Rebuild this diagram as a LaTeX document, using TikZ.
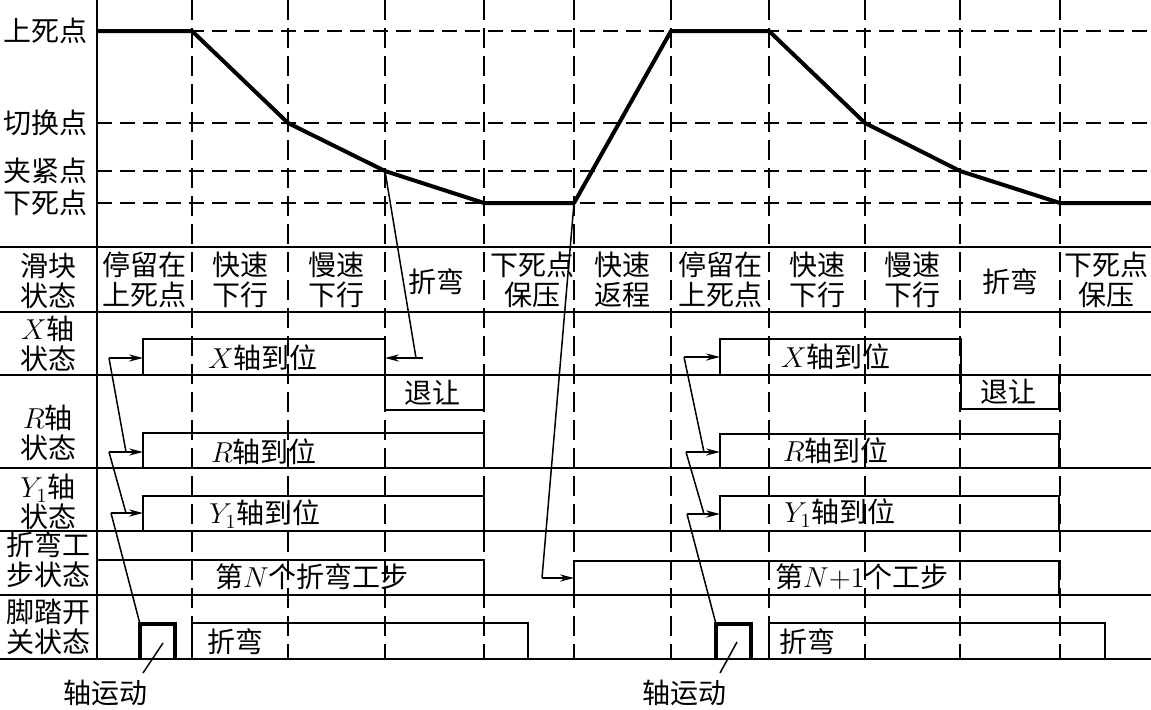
\documentclass[tikz,border=0pt]{standalone}
\usepackage{fontspec}
\usepackage{tikz}
\usetikzlibrary{arrows.meta}
\newfontfamily\cjk{Noto Sans CJK SC}
\newcommand{\zh}{\cjk\fontsize{14}{15}\selectfont}

\begin{document}
\begin{tikzpicture}[x=0.5pt, y=-0.5pt,
        txt/.style={font=\zh, align=center, inner sep=0pt},
        tline/.style={line width=1.2pt},
        hdash/.style={dash pattern=on 7.5pt off 4pt, line width=0.9pt},
        vdash/.style={dash pattern=on 10pt off 4pt, line width=0.9pt},
        curve/.style={line width=2pt, line join=round},
        sbox/.style={line width=0.9pt},
        pedal/.style={line width=2pt},
        arrow/.style={-{Stealth[length=7pt, width=3.6pt]}, line width=0.75pt},
        lead/.style={line width=0.75pt}
    ]
        \useasboundingbox (0,0) rectangle (1151,709);

        % Grid
        \foreach \y in {31,123,171,203}
            \draw[hdash] (97,\y) -- (1151,\y);
        \foreach \x in {192,288,385,484,574,671,769,865,960,1060}
            \draw[vdash] (\x,0) -- (\x,659);
        \draw[tline] (97,0) -- (97,659);
        \foreach \y in {247,312,375,468,531,595,659}
            \draw[tline] (0,\y) -- (1151,\y);

        % Slider positions
        \node[txt, anchor=east] (tdc) at (88,31) {上死点};
        \node[txt, anchor=east] (swp) at (88,123) {切换点};
        \node[txt, anchor=east] (clp) at (88,171) {夹紧点};
        \node[txt, anchor=east] (bdc) at (88,203) {下死点};

        \coordinate (p0) at (97,31);
        \coordinate (p1) at (192,31);
        \coordinate (p2) at (288,123);
        \coordinate (p3) at (385,171);
        \coordinate (p4) at (484,203);
        \coordinate (p5) at (574,203);
        \coordinate (p6) at (671,31);
        \coordinate (p7) at (769,31);
        \coordinate (p8) at (865,123);
        \coordinate (p9) at (960,171);
        \coordinate (p10) at (1060,203);
        \coordinate (p11) at (1151,203);
        \draw[curve] (p0) -- (p1) -- (p2) -- (p3) -- (p4) -- (p5) -- (p6)
            -- (p7) -- (p8) -- (p9) -- (p10) -- (p11);

        % Row titles
        \node[txt] (rslide) at (48,281) {滑块\\状态};
        \node[txt] (rx) at (48,344) {$X$轴\\状态};
        \node[txt] (rr) at (48,433) {$R$轴\\状态};
        \node[txt] (ry) at (48,502) {$Y_1$轴\\状态};
        \node[txt] (rstep) at (48,560) {折弯工\\步状态};
        \node[txt] (rfoot) at (48,627) {脚踏开\\关状态};

        % Slider states
        \node[txt] (s1) at (144,280) {停留在\\上死点};
        \node[txt] (s2) at (240,280) {快速\\下行};
        \node[txt] (s3) at (336,280) {慢速\\下行};
        \node[txt] (s4) at (436,282) {折弯};
        \node[txt] (s5) at (532,280) {下死点\\保压};
        \node[txt] (s6) at (622,280) {快速\\返程};
        \node[txt] (s7) at (720,280) {停留在\\上死点};
        \node[txt] (s8) at (817,280) {快速\\下行};
        \node[txt] (s9) at (912,280) {慢速\\下行};
        \node[txt] (s10) at (1010,282) {折弯};
        \node[txt] (s11) at (1106,280) {下死点\\保压};

        % Axis states, step N
        \draw[sbox] (143,375) |- (385,339) -- (385,375);
        \draw[sbox] (385,375) |- (484,410) -- (484,375);
        \draw[sbox] (143,468) |- (484,433) -- (484,468);
        \draw[sbox] (143,531) |- (484,496) -- (484,531);
        \draw[sbox] (97,595) |- (484,560) -- (484,595);
        \draw[sbox] (192,659) |- (528,623) -- (528,659);
        \draw[pedal] (140,659) |- (175,624) -- (175,659);
        \node[txt] (xok) at (263,358) {$X$轴到位};
        \node[txt] (back) at (432,393) {退让};
        \node[txt] (rok) at (264,452) {$R$轴到位};
        \node[txt] (yok) at (265,514) {$Y_1$轴到位};
        \node[txt] (stepn) at (312,577) {第$N$个折弯工步};
        \node[txt] (bend) at (235,642) {折弯};

        % Axis states, step N+1
        \draw[sbox] (720,375) |- (961,339) -- (961,375);
        \draw[sbox] (961,375) |- (1059,409) -- (1059,375);
        \draw[sbox] (720,468) |- (1059,434) -- (1059,468);
        \draw[sbox] (720,531) |- (1059,496) -- (1059,531);
        \draw[sbox] (574,595) |- (1059,561) -- (1059,595);
        \draw[sbox] (769,659) |- (1105,623) -- (1105,659);
        \draw[pedal] (716,659) |- (751,624) -- (751,659);
        \node[txt] (xok2) at (836,357) {$X$轴到位};
        \node[txt] (back2) at (1008,392) {退让};
        \node[txt] (rok2) at (836,451) {$R$轴到位};
        \node[txt] (yok2) at (840,513) {$Y_1$轴到位};
        \node[txt] (stepn2) at (862,577) {第$N{+}1$个工步};
        \node[txt] (bend2) at (807,642) {折弯};

        % Arrows, left
        \coordinate (xa) at (109,358);
        \coordinate (xb) at (143,358);
        \coordinate (ra) at (109,452);
        \coordinate (rb) at (143,452);
        \coordinate (rk) at (126,452);
        \coordinate (ya) at (111,513);
        \coordinate (yb) at (143,513);
        \coordinate (yk) at (126,513);
        \coordinate (pa) at (140,624);
        \draw[arrow] (xa) -- (xb);
        \draw[arrow] (ra) -- (rb);
        \draw[arrow] (ya) -- (yb);
        \draw[lead] (xa) -- (rk);
        \draw[lead] (ra) -- (yk);
        \draw[lead] (ya) -- (pa);

        \coordinate (xk) at (416,358);
        \coordinate (xt) at (423,358);
        \coordinate (xe) at (385,358);
        \draw[lead] (p3) -- (xk);
        \draw[arrow] (xt) -- (xe);

        \coordinate (sk) at (542,578);
        \coordinate (se) at (574,578);
        \draw[lead] (p5) -- (sk);
        \draw[arrow] (sk) -- (se);

        % Arrows, right
        \coordinate (xa2) at (684,357);
        \coordinate (xb2) at (720,357);
        \coordinate (ra2) at (686,452);
        \coordinate (rb2) at (720,452);
        \coordinate (rk2) at (704,452);
        \coordinate (ya2) at (687,514);
        \coordinate (yb2) at (720,514);
        \coordinate (yk2) at (704,514);
        \coordinate (pa2) at (716,624);
        \draw[arrow] (xa2) -- (xb2);
        \draw[arrow] (ra2) -- (rb2);
        \draw[arrow] (ya2) -- (yb2);
        \draw[lead] (xa2) -- (rk2);
        \draw[lead] (ra2) -- (yk2);
        \draw[lead] (ya2) -- (pa2);

        % Axis motion
        \node[txt] (mov) at (105,693) {轴运动};
        \node[txt] (mov2) at (684,693) {轴运动};
        \coordinate (m1) at (163,643);
        \coordinate (m1e) at (143,673);
        \coordinate (m2) at (737,642);
        \coordinate (m2e) at (720,673);
        \draw[lead] (m1) -- (m1e);
        \draw[lead] (m2) -- (m2e);
    \end{tikzpicture}
\end{document}
